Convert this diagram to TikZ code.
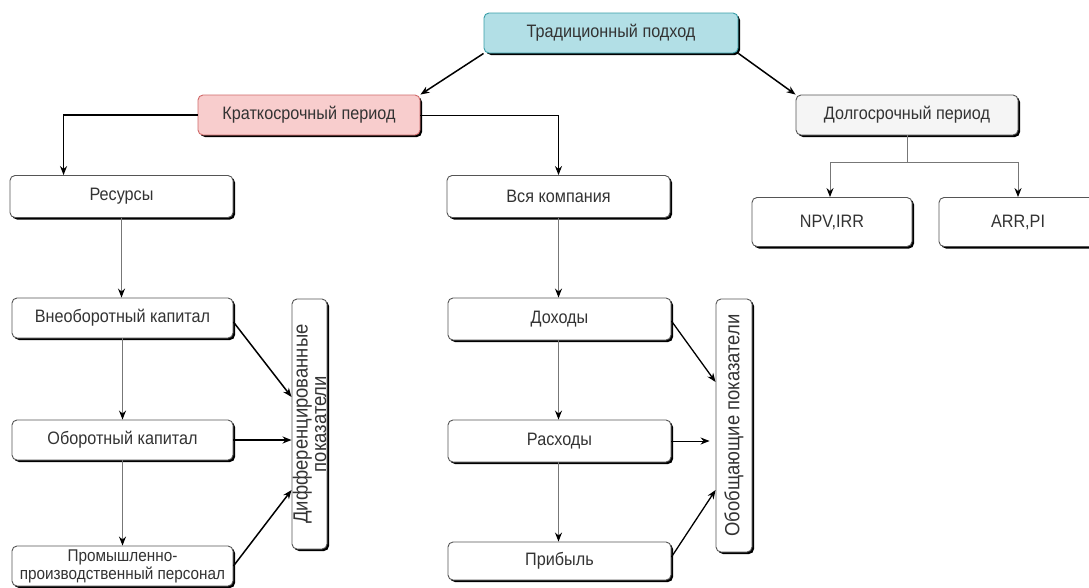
\documentclass[tikz,border=0pt]{standalone}
\usepackage{fontspec}
\setmainfont{Liberation Sans}[FakeStretch=0.9]
\usetikzlibrary{shadows,arrows.meta,calc}
\definecolor{txt}{HTML}{333333}
\definecolor{edge}{HTML}{555555}
\definecolor{tealfill}{HTML}{B2DFE6}
\definecolor{tealedge}{HTML}{3A9FA8}
\definecolor{pinkfill}{HTML}{F8CDCD}
\definecolor{pinkedge}{HTML}{D06A6A}
\definecolor{grayfill}{HTML}{F5F5F5}
\definecolor{vline}{HTML}{777777}
\tikzset{
  box/.style={draw=edge, line width=0.9pt, rounded corners=5pt, fill=white,
    text=txt, font=\fontsize{18}{20}\selectfont, inner sep=0pt, align=center,
    drop shadow={shadow xshift=2pt, shadow yshift=-2pt, fill=black, opacity=1}},
  vtext/.style={rotate=90, text=txt, font=\fontsize{20.5}{18.5}\selectfont, align=center, inner sep=0pt},
  bigarrow/.style={line width=1.5pt, -{Stealth[length=9pt,width=7pt]}},
  thinarrow/.style={line width=1pt, black, -{Stealth[length=9pt,width=7pt]}},
  grayarrow/.style={line width=1pt, draw=vline, -{Stealth[length=9pt,width=7pt,fill=black,color=black]}},
  midarrow/.style={line width=1.3pt, -{Stealth[length=9pt,width=7pt]}},
}
\begin{document}
\begin{tikzpicture}[x=1pt,y=-1pt]
\useasboundingbox (0,0) rectangle (1089,587);
\begin{scope}
\clip (0,0) rectangle (1089,587);
% top level
\node[box, fill=tealfill, draw=tealedge, minimum width=254pt, minimum height=40pt] (trad) at (611,33) {Традиционный подход};
\node[box, fill=pinkfill, draw=pinkedge, minimum width=222pt, minimum height=40pt] (kr) at (309,115) {Краткосрочный период};
\node[box, fill=grayfill, minimum width=222pt, minimum height=40pt] (dl) at (907,115) {Долгосрочный период};
\node[box, minimum width=160pt, minimum height=49pt] (npv) at (832,222) {NPV,IRR};
\node[box, minimum width=158pt, minimum height=49pt, text width=150pt] (arr) at (1018,222) {ARR,PI};
% left branch
\node[box, minimum width=223pt, minimum height=42pt] (res) at (121.5,196.5) {Ресурсы};
\node[box, minimum width=221pt, minimum height=40pt] (vneob) at (122.5,318) {Внеоборотный капитал};
\node[box, minimum width=221pt, minimum height=40pt] (ob) at (122.5,440) {Оборотный капитал};
\node[box, minimum width=221pt, minimum height=40pt, font=\fontsize{17}{18}\selectfont] (prom) at (122.5,566) {Промышленно-\\производственный персонал};
\node[box, minimum width=35pt, minimum height=250pt] (diff) at (309.5,424) {};
\node[vtext] (difft) at (diff.center) {Дифференцированные\\показатели};
% middle branch
\node[box, minimum width=223pt, minimum height=42pt] (vsya) at (558.5,196.5) {Вся компания};
\node[box, minimum width=223pt, minimum height=42pt] (doh) at (559.5,319) {Доходы};
\node[box, minimum width=223pt, minimum height=42pt] (rash) at (559.5,441) {Расходы};
\node[box, minimum width=223pt, minimum height=38pt] (prib) at (559.5,561) {Прибыль};
\node[box, minimum width=36pt, minimum height=253pt] (obob) at (734,425.5) {};
\node[vtext] (obobt) at (obob.center) {Обобщающие показатели};
% connectors top
\draw[bigarrow] (trad.south west) -- (kr.north east);
\draw[bigarrow] (trad.south east) -- (dl.north west);
\draw[midarrow] (kr.west) -| ([xshift=54pt]res.north west);
\draw[thinarrow] (kr.east) -| (vsya.north);
\draw[line width=1pt, draw=vline] (dl.south) -- ++(0,27) coordinate (dlmid);
\draw[grayarrow] (dlmid) -| ([xshift=-2pt]npv.north);
\draw[grayarrow] (dlmid) -| (arr.north);
% left verticals
\draw[grayarrow] (res.south) -- (res.south |- vneob.north);
\draw[grayarrow] (vneob.south) -- (prom.north |- ob.north);
\draw[grayarrow] (ob.south) -- (prom.north);
\draw[bigarrow] ([yshift=-4pt]vneob.east) -- ([yshift=27pt]diff.west);
\draw[bigarrow] (ob.east) -- (diff.west |- ob.east);
\draw[bigarrow] (prom.east) -- ([yshift=-66pt]diff.west);
% middle verticals
\draw[grayarrow] (vsya.south) -- ([xshift=-1pt]doh.north);
\draw[grayarrow] ([xshift=-1pt]doh.south) -- ([xshift=-1pt]rash.north);
\draw[grayarrow] ([xshift=-1pt]rash.south) -- ([xshift=-1pt]prib.north);
\draw[midarrow] ([yshift=-2pt]doh.east) -- ([yshift=43.5pt]obob.west);
\draw[thinarrow] (rash.east) -- ([xshift=-6pt]obob.west |- rash.east);
\draw[midarrow] ([yshift=4pt]prib.east) -- ([yshift=-64.5pt]obob.west);
\end{scope}
\end{tikzpicture}
\end{document}
